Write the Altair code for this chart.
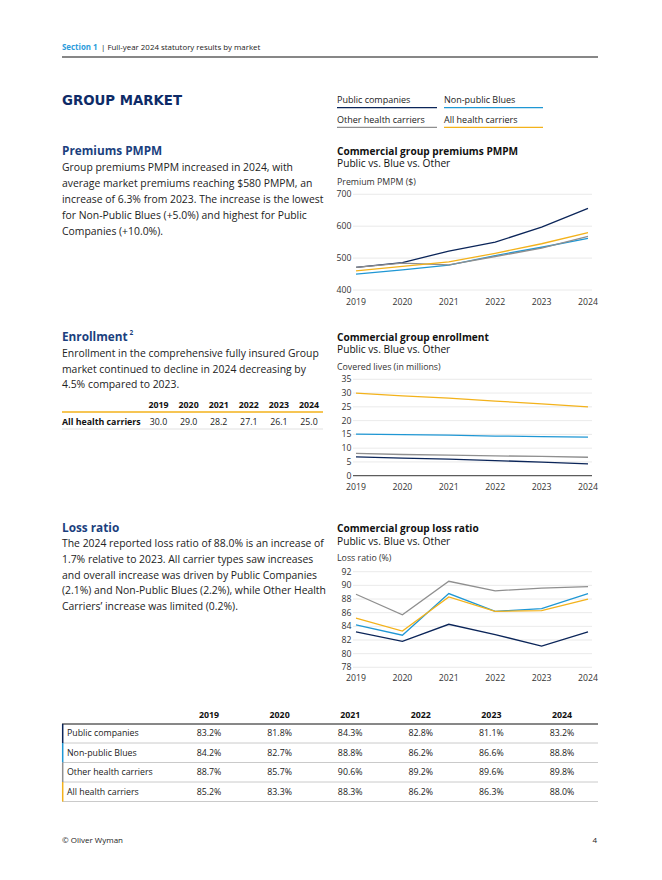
import altair as alt
import pandas as pd

FONT = "Open Sans"
TITLE_FONT = "DejaVu Sans Condensed"

years = [2019, 2020, 2021, 2022, 2023, 2024]
series = ["Public companies", "Non-public Blues", "Other health carriers", "All health carriers"]
colors = ["#0B2559", "#1F97D4", "#8F8F8F", "#F3B21B"]

# Premiums PMPM ($)
prem_public = [471, 486, 522, 550, 597, 656]
prem_blues = [450, 463, 478, 508, 534, 562]
prem_other = [471, 484, 479, 505, 531, 568]
prem_all = [460, 474, 488, 515, 545, 580]
prem_ticks = [400, 500, 600, 700]

# Enrollment (millions)
enr_public = [6.8, 6.4, 6.0, 5.5, 4.9, 4.3]
enr_blues = [15.1, 14.9, 14.7, 14.4, 14.2, 14.0]
enr_other = [8.1, 7.7, 7.5, 7.2, 7.0, 6.7]
enr_all = [30.0, 29.0, 28.2, 27.1, 26.1, 25.0]
enr_ticks = [0, 5, 10, 15, 20, 25, 30, 35]

# Loss ratio (%)
loss_public = [83.2, 81.8, 84.3, 82.8, 81.1, 83.2]
loss_blues = [84.2, 82.7, 88.8, 86.2, 86.6, 88.8]
loss_other = [88.7, 85.7, 90.6, 89.2, 89.6, 89.8]
loss_all = [85.2, 83.3, 88.3, 86.2, 86.3, 88.0]
loss_ticks = [78, 80, 82, 84, 86, 88, 90, 92]

prem_text = [
    "Group premiums PMPM increased in 2024, with",
    "average market premiums reaching $580 PMPM, an",
    "increase of 6.3% from 2023. The increase is the lowest",
    "for Non-Public Blues (+5.0%) and highest for Public",
    "Companies (+10.0%).",
]
enr_text = [
    "Enrollment in the comprehensive fully insured Group",
    "market continued to decline in 2024 decreasing by",
    "4.5% compared to 2023.",
]
loss_text = [
    "The 2024 reported loss ratio of 88.0% is an increase of",
    "1.7% relative to 2023. All carrier types saw increases",
    "and overall increase was driven by Public Companies",
    "(2.1%) and Non-Public Blues (2.2%), while Other Health",
    "Carriers\u2019 increase was limited (0.2%).",
]

BODY = 10.4
HEAD = 11.8
CT = 10.1
SUB = 10.2
AX = 8.8
TICK = 8.7
TAB = 8.8


def P(v):
    return v - 8


def long_df(lists):
    rows = []
    for s, vals in zip(series, lists):
        for y, v in zip(years, vals):
            rows.append({"series": s, "year": y, "value": v})
    return pd.DataFrame(rows)


def txt(x, y, s, size=BODY, weight="normal", color="#222222", align="left", font=FONT):
    return alt.Chart(alt.Data(values=[{"t": s}])).mark_text(
        align=align, baseline="middle", font=font, fontSize=size,
        fontWeight=weight, color=color
    ).encode(x=alt.value(P(x)), y=alt.value(P(y)), text="t:N")


def hrule(x1, x2, y, color, width=1.0):
    return alt.Chart(alt.Data(values=[{"a": 0}])).mark_rule(
        color=color, strokeWidth=width
    ).encode(x=alt.value(P(x1)), x2=alt.value(P(x2)), y=alt.value(P(y)))


def vrule(x, y1, y2, color, width=1.5):
    return alt.Chart(alt.Data(values=[{"a": 0}])).mark_rule(
        color=color, strokeWidth=width
    ).encode(x=alt.value(P(x)), y=alt.value(P(y1)), y2=alt.value(P(y2)))


def paragraph(x, y0, lines, lh=15.8):
    return [txt(x, y0 + i * lh, line) for i, line in enumerate(lines)]


def panel(lists, ticks, ybot, ytop, xlab_y, dark_base=False):
    xs = alt.Scale(domain=[2019, 2024], range=[P(356), P(588)], nice=False, zero=False)
    ys = alt.Scale(domain=[ticks[0], ticks[-1]], range=[P(ybot), P(ytop)], nice=False, zero=False)
    tdf = pd.DataFrame({"v": ticks})
    ydf = pd.DataFrame({"year": years})
    grid = alt.Chart(tdf).mark_rule(color="#E4E4E4", strokeWidth=0.8).encode(
        y=alt.Y("v:Q", scale=ys, axis=None), x=alt.value(P(353)), x2=alt.value(P(592))
    )
    layers = [grid]
    if dark_base:
        base = alt.Chart(tdf[tdf.v == ticks[0]]).mark_rule(color="#3A3A3A", strokeWidth=1).encode(
            y=alt.Y("v:Q", scale=ys, axis=None), x=alt.value(P(353)), x2=alt.value(P(592))
        )
        layers.append(base)
    ylab = alt.Chart(tdf).mark_text(align="right", baseline="middle", font=FONT, fontSize=TICK, color="#333333").encode(
        y=alt.Y("v:Q", scale=ys, axis=None), x=alt.value(P(351.5)), text=alt.Text("v:Q", format="d")
    )
    xlab = alt.Chart(ydf).mark_text(align="center", baseline="middle", font=FONT, fontSize=TICK, color="#333333").encode(
        x=alt.X("year:Q", scale=xs, axis=None), y=alt.value(P(xlab_y)), text=alt.Text("year:Q", format="d")
    )
    lines = alt.Chart(long_df(lists)).mark_line(strokeWidth=1.3).encode(
        x=alt.X("year:Q", scale=xs, axis=None),
        y=alt.Y("value:Q", scale=ys, axis=None),
        color=alt.Color("series:N", scale=alt.Scale(domain=series, range=colors), legend=None),
        detail="series:N",
    )
    layers += [ylab, xlab, lines]
    return alt.layer(*layers)


layers = []

# Header
layers.append(txt(62, 48, "Section 1", size=7.9, weight="bold", color="#2D9CDB"))
layers.append(txt(101, 48, "| Full-year 2024 statutory results by market", size=7.9, color="#222222"))
layers.append(hrule(62, 598, 57, "#111111", 1.2))

# Page title
layers.append(txt(62, 101, "GROUP MARKET", size=14.8, weight="bold", color="#0E2B67", font=TITLE_FONT))

# Legend
leg_pos = [(337, 100, 437), (444, 100, 543), (337, 119.7, 437), (444, 119.7, 543)]
for (lx, ly, lx2), s, c in zip(leg_pos, series, colors):
    layers.append(txt(lx, ly, s, size=9))
    layers.append(hrule(lx, lx2, ly + 7.6, c, 1.2))

# Section: Premiums
layers.append(txt(62, 151, "Premiums PMPM", size=HEAD, weight="bold", color="#1B3F7E"))
layers += paragraph(62, 168.3, prem_text)
layers.append(txt(337, 151.7, "Commercial group premiums PMPM", size=CT, weight="bold", color="#111111"))
layers.append(txt(337, 164.3, "Public vs. Blue vs. Other", size=SUB, color="#111111"))
layers.append(txt(337, 181.7, "Premium PMPM ($)", size=AX, color="#333333"))
layers.append(panel([prem_public, prem_blues, prem_other, prem_all], prem_ticks, 290, 194.3, 302.3))

# Section: Enrollment
layers.append(txt(62, 337, "Enrollment", size=HEAD, weight="bold", color="#1B3F7E"))
layers.append(txt(129.5, 333, "2", size=6.5, weight="bold", color="#1B3F7E"))
layers += paragraph(62, 354.3, enr_text, lh=15.4)
layers.append(txt(337, 337.7, "Commercial group enrollment", size=CT, weight="bold", color="#111111"))
layers.append(txt(337, 350.3, "Public vs. Blue vs. Other", size=SUB, color="#111111"))
layers.append(txt(337, 366.7, "Covered lives (in millions)", size=AX, color="#333333"))
layers.append(panel([enr_public, enr_blues, enr_other, enr_all], enr_ticks, 475.7, 379.3, 487.3, dark_base=True))

# Enrollment mini-table
ex = alt.Scale(domain=[2019, 2024], range=[P(158.5), P(309)], nice=False, zero=False)
edf = pd.DataFrame({"year": years, "value": enr_all})
layers.append(hrule(62, 323, 412, "#F3B21B", 1.6))
layers.append(hrule(62, 323, 429, "#D9D9D9", 0.8))
layers.append(alt.layer(
    alt.Chart(edf).mark_text(align="center", baseline="middle", font=FONT, fontSize=TAB,
                             fontWeight="bold", color="#111111").encode(
        x=alt.X("year:Q", scale=ex, axis=None), y=alt.value(P(405)), text=alt.Text("year:Q", format="d")),
    alt.Chart(edf).mark_text(align="center", baseline="middle", font=FONT, fontSize=TAB,
                             color="#222222").encode(
        x=alt.X("year:Q", scale=ex, axis=None), y=alt.value(P(421.5)), text=alt.Text("value:Q", format=".1f")),
))
layers.append(txt(62, 421.5, "All health carriers", size=TAB, weight="bold", color="#111111"))

# Section: Loss ratio
layers.append(txt(62, 528.3, "Loss ratio", size=HEAD, weight="bold", color="#1B3F7E"))
layers += paragraph(62, 544.3, loss_text, lh=15.7)
layers.append(txt(337, 529, "Commercial group loss ratio", size=CT, weight="bold", color="#111111"))
layers.append(txt(337, 541.7, "Public vs. Blue vs. Other", size=SUB, color="#111111"))
layers.append(txt(337, 557.7, "Loss ratio (%)", size=AX, color="#333333"))
layers.append(panel([loss_public, loss_blues, loss_other, loss_all], loss_ticks, 667.3, 571.7, 678.3))

# Bottom loss ratio table
tx = alt.Scale(domain=[2019, 2024], range=[P(209), P(562)], nice=False, zero=False)
ty = alt.Scale(type="point", domain=series, range=[P(733.3), P(791.8)], padding=0)
tdf = long_df([loss_public, loss_blues, loss_other, loss_all])
tdf["label"] = tdf["value"].map(lambda v: f"{v:.1f}%")
sdf = pd.DataFrame({"series": series})
ydf = pd.DataFrame({"year": years})
row_bounds = [(724, 743), (743, 762.5), (762.5, 782), (782, 801.5)]
layers.append(hrule(62, 598, 724, "#111111", 1.0))
for (y1, y2) in row_bounds:
    layers.append(hrule(62, 598, y2, "#BDBDBD", 0.8))
for (y1, y2), c in zip(row_bounds, colors):
    layers.append(vrule(62.7, y1, y2, c, 1.5))
layers.append(alt.layer(
    alt.Chart(ydf).mark_text(align="center", baseline="middle", font=FONT, fontSize=TAB,
                             fontWeight="bold", color="#111111").encode(
        x=alt.X("year:Q", scale=tx, axis=None), y=alt.value(P(715)), text=alt.Text("year:Q", format="d")),
    alt.Chart(tdf).mark_text(align="center", baseline="middle", font=FONT, fontSize=TAB,
                             color="#222222").encode(
        x=alt.X("year:Q", scale=tx, axis=None),
        y=alt.Y("series:N", scale=ty, axis=None),
        text="label:N"),
    alt.Chart(sdf).mark_text(align="left", baseline="middle", font=FONT, fontSize=TAB,
                             color="#222222").encode(
        x=alt.value(P(67)),
        y=alt.Y("series:N", scale=ty, axis=None),
        text="series:N"),
))

# Footer
layers.append(txt(62, 841, "\u00a9 Oliver Wyman", size=8, color="#222222"))
layers.append(txt(597, 841, "4", size=8, color="#222222", align="right"))

chart = alt.layer(*layers).resolve_scale(x="independent", y="independent").properties(
    width=646, height=864, padding=0, background="white", autosize="none"
).configure_view(stroke=None)

chart.save("out.html", embed_options={"renderer": "svg", "actions": False})
